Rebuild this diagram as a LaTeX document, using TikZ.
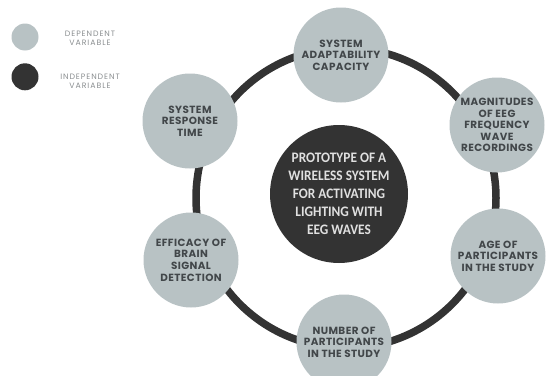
\documentclass[tikz,border=0pt]{standalone}
\usepackage{fontspec}
\setmainfont{Poppins}
\newfontfamily\varfont[LetterSpace=4]{Poppins}
\newfontfamily\legfont[LetterSpace=12]{Poppins}
\newfontfamily\centerfont[FakeStretch=0.92]{Carlito}
\usetikzlibrary{positioning}

\definecolor{depfill}{HTML}{B8C2C4}
\definecolor{indfill}{HTML}{333333}
\definecolor{vartext}{HTML}{42474A}
\definecolor{legtext}{HTML}{8A8E90}

\begin{document}
\begin{tikzpicture}[x=1pt, y=-1pt, thick,
    deptxt/.style={align=center, text=vartext, inner sep=0pt, font=\varfont\bfseries\fontsize{10.4}{11.6}\selectfont},
    dep/.style={circle, fill=depfill, minimum size=95pt, inner sep=0pt, label={[deptxt]center:#1}},
    indep/.style={circle, fill=indfill, minimum size=138pt, inner sep=0pt, align=center, text=white!88!black, font=\centerfont\bfseries\fontsize{14.5}{18}\selectfont},
    legdot/.style={circle, minimum size=27pt, inner sep=0pt},
    legtxt/.style={align=center, text=legtext, font=\legfont\fontsize{7.8}{9}\selectfont},
    ring/.style={draw=indfill, line width=7.5pt}
  ]
  \useasboundingbox (0,0) rectangle (546,375);

  % legenda
  \node[legdot, fill=depfill]  (L1)                 at (25,37) {};
  \node[legdot, fill=indfill]  (L2) [below=12pt of L1] {};
  \node[legtxt] (T1) at (90,38) {DEPENDENT\\VARIABLE};
  \node[legtxt] (T2) at (90,81) {INDEPENDENT\\VARIABLE};

  % anel
  \coordinate (R) at (346,198);
  \draw[ring] (R) circle[radius=150];

  \node[dep={SYSTEM\\ADAPTABILITY\\CAPACITY}]                 (S1) at (341,55)  {};
  \node[dep={MAGNITUDES\\OF EEG\\FREQUENCY\\WAVE\\RECORDINGS}] (S2) at (497,125) {};
  \node[dep={AGE OF\\PARTICIPANTS\\IN THE STUDY}]             (S3) at (498,256) {};
  \node[dep={NUMBER OF\\PARTICIPANTS\\IN THE STUDY}]          (S4) at (344,342) {};
  \node[dep={EFFICACY OF\\BRAIN\\SIGNAL\\DETECTION}]           (S5) at (191,260) {};
  \node[dep={SYSTEM\\RESPONSE\\TIME}]                         (S6) at (190,121) {};

  \node[indep] (C) at (339,194) {PROTOTYPE OF A\\WIRELESS SYSTEM\\FOR ACTIVATING\\LIGHTING WITH\\EEG WAVES};
\end{tikzpicture}
\end{document}
